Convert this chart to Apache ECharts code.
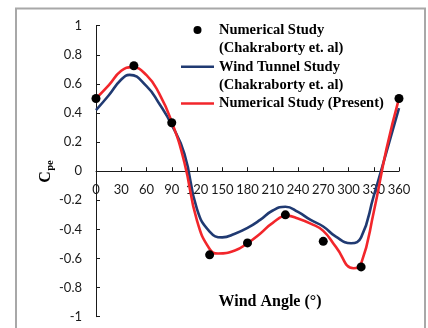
<!DOCTYPE html>
<html>
<head>
<meta charset="utf-8">
<script src="https://cdn.jsdelivr.net/npm/echarts@6/dist/echarts.min.js"></script>
<style>
  html, body { margin: 0; padding: 0; background: #ffffff; }
  #chart { width: 428px; height: 328px; }
</style>
</head>
<body>
<div id="chart"></div>
<script>
// External pressure coefficient (Cpe) against wind angle in degrees.

// Numerical study, Chakraborty et al. (point values)
const refAngles = [0, 45, 90, 135, 180, 225, 270, 315, 360];
const refNumerical = [0.5, 0.725, 0.333, -0.575, -0.493, -0.3, -0.482, -0.658, 0.5];

// Wind tunnel study, Chakraborty et al.
const tunnelAngles = [0, 15, 30, 40, 60, 75, 90, 105, 120, 135, 150, 165, 180, 195, 210, 225, 240, 255, 270, 285, 303, 315, 330, 345, 360];
const tunnelCpe = [0.42, 0.52, 0.63, 0.662, 0.585, 0.465, 0.318, 0.12, -0.26, -0.415, -0.455, -0.43, -0.39, -0.335, -0.27, -0.244, -0.28, -0.335, -0.38, -0.45, -0.495, -0.455, -0.17, 0.13, 0.434];

// Numerical study, present work
const presentAngles = [0, 15, 30, 43, 60, 75, 90, 105, 120, 135, 145, 165, 180, 195, 210, 227, 240, 255, 270, 285, 306, 315, 330, 345, 360];
const presentCpe = [0.5, 0.59, 0.69, 0.715, 0.66, 0.535, 0.34, 0.06, -0.34, -0.535, -0.566, -0.545, -0.495, -0.43, -0.355, -0.307, -0.325, -0.36, -0.41, -0.52, -0.667, -0.635, -0.28, 0.15, 0.5];

// Axis ranges and tick steps
const angleRange = [0, 360];
const angleStep = 30;
const cpeRange = [-1, 1];
const cpeStep = 0.2;

const nameRef = 'Numerical Study (Chakraborty et. al)';
const nameTunnel = 'Wind Tunnel Study (Chakraborty et. al)';
const namePresent = 'Numerical Study (Present)';
const legendFirstLine = {};
legendFirstLine[nameRef] = 'Numerical Study';
legendFirstLine[nameTunnel] = 'Wind Tunnel Study';
legendFirstLine[namePresent] = 'Numerical Study (Present)';

const pairs = (xs, ys) => xs.map((x, i) => [x, ys[i]]);

const serif = '"Liberation Serif", "Times New Roman", serif';
const sans = 'Lato, "Liberation Sans", sans-serif';

const W = 428, H = 328;
const gridBox = { left: 96, right: 29, top: 25.7, bottom: 11.3 };
const plotHeight = H - gridBox.top - gridBox.bottom;
// the wind-angle axis runs along Cpe = 0
const zeroLift = -plotHeight * (0 - cpeRange[0]) / (cpeRange[1] - cpeRange[0]);

// flat bar used as a line swatch in the legend
const lineSwatch = 'path://M0,0M33,8M0,2.7H33V5.3H0Z';

const chart = echarts.init(document.getElementById('chart'), null, { renderer: 'canvas' });

chart.setOption({
  backgroundColor: '#ffffff',
  animation: false,
  grid: Object.assign({ containLabel: false, outerBoundsMode: 'none' }, gridBox),
  xAxis: {
    type: 'value',
    min: angleRange[0],
    max: angleRange[1],
    interval: angleStep,
    offset: zeroLift,
    axisLine: { onZero: false, lineStyle: { color: '#1a1a1a', width: 1 } },
    axisTick: { inside: true, length: 4, lineStyle: { color: '#1a1a1a' } },
    axisLabel: { margin: 12, fontFamily: sans, fontSize: 13, color: '#1a1a1a' },
    splitLine: { show: false }
  },
  yAxis: {
    type: 'value',
    min: cpeRange[0],
    max: cpeRange[1],
    interval: cpeStep,
    axisLine: { show: true, onZero: false, lineStyle: { color: '#1a1a1a', width: 1 } },
    axisTick: { show: true, inside: true, length: 4, lineStyle: { color: '#1a1a1a' } },
    axisLabel: { margin: 14, fontFamily: sans, fontSize: 13, color: '#1a1a1a' },
    splitLine: { show: false }
  },
  legend: {
    orient: 'vertical',
    left: 181,
    top: 21.5,
    padding: 0,
    itemWidth: 33,
    itemHeight: 8,
    itemGap: 19.75,
    selectedMode: false,
    itemStyle: { borderWidth: 0, opacity: 1 },
    data: [
      { name: nameRef, icon: 'circle', itemStyle: { color: '#000000', opacity: 1 } },
      { name: nameTunnel, icon: lineSwatch, itemStyle: { color: '#203a72' } },
      { name: namePresent, icon: lineSwatch, itemStyle: { color: '#f2262b' } }
    ],
    formatter: (name) => legendFirstLine[name],
    textStyle: { fontFamily: serif, fontWeight: 'bold', fontSize: 14.5, color: '#000', lineHeight: 17 }
  },
  series: [
    {
      name: nameTunnel,
      type: 'line',
      smooth: 0.5,
      showSymbol: false,
      symbol: 'none',
      lineStyle: { color: '#203a72', width: 2.6 },
      itemStyle: { color: '#203a72' },
      data: pairs(tunnelAngles, tunnelCpe),
      z: 2
    },
    {
      name: namePresent,
      type: 'line',
      smooth: 0.5,
      showSymbol: false,
      symbol: 'none',
      lineStyle: { color: '#f2262b', width: 2.6 },
      itemStyle: { color: '#f2262b' },
      data: pairs(presentAngles, presentCpe),
      z: 3
    },
    {
      name: nameRef,
      type: 'scatter',
      symbol: 'circle',
      symbolSize: 9,
      itemStyle: { color: '#000000', opacity: 1 },
      data: pairs(refAngles, refNumerical),
      z: 4
    }
  ],
  graphic: [
    {
      type: 'rect',
      silent: true,
      shape: { x: 16, y: 8.5, width: 409, height: 340 },
      style: { fill: 'none', stroke: '#a8a8a8', lineWidth: 2 },
      z: 0
    },
    {
      type: 'text',
      silent: true,
      x: 219, y: 48,
      style: { text: '(Chakraborty et. al)', font: 'bold 14.5px ' + serif, fill: '#000', verticalAlign: 'middle', align: 'left' }
    },
    {
      type: 'text',
      silent: true,
      x: 219, y: 85,
      style: { text: '(Chakraborty et. al)', font: 'bold 14.5px ' + serif, fill: '#000', verticalAlign: 'middle', align: 'left' }
    },
    {
      type: 'text',
      silent: true,
      x: 270, y: 302,
      style: { text: 'Wind Angle (°)', font: 'bold 16px ' + serif, fill: '#000', align: 'center', verticalAlign: 'middle' }
    },
    {
      type: 'text',
      silent: true,
      x: 45.5, y: 177,
      rotation: Math.PI / 2,
      style: { text: 'C', font: 'bold 16px ' + serif, fill: '#000', align: 'center', verticalAlign: 'middle' }
    },
    {
      type: 'text',
      silent: true,
      x: 50.5, y: 165.5,
      rotation: Math.PI / 2,
      style: { text: 'pe', font: 'bold 10.5px ' + serif, fill: '#000', align: 'center', verticalAlign: 'middle' }
    }
  ]
});
</script>
</body>
</html>
